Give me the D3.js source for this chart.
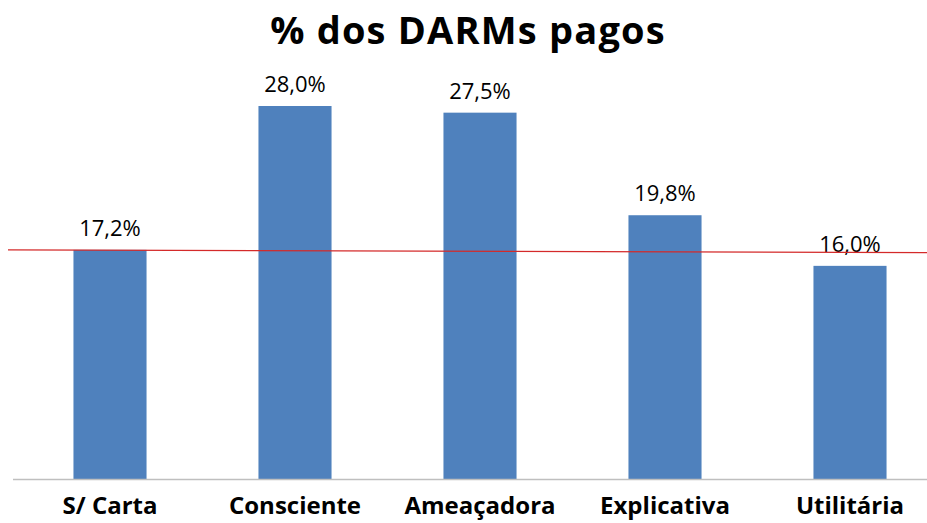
<!DOCTYPE html>
<html><head><meta charset="utf-8">
<script src="https://cdn.jsdelivr.net/npm/d3@7"></script>
<style>body{margin:0;background:#fff}svg{display:block}</style>
</head><body>
<script>
const categories = ["S/ Carta","Consciente","Ameaçadora","Explicativa","Utilitária"];
const values = [17.2, 28.0, 27.5, 19.8, 16.0];
const valueLabels = ["17,2%","28,0%","27,5%","19,8%","16,0%"];
const refLine = [17.2, 17.0];
const title = "% dos DARMs pagos";

const W = 927, H = 523;
const svg = d3.select("body").append("svg").attr("width", W).attr("height", H);

const x = d3.scaleBand().domain(categories).range([17.5, 942.5]).paddingInner(0.605).paddingOuter(0.3025);
const y = d3.scaleLinear().domain([0, 28]).range([479, 106]);

svg.append("text").attr("x", 468).attr("y", 44).attr("text-anchor", "middle")
  .attr("font-family", "Open Sans").attr("font-weight", "bold").attr("font-size", 38)
  .attr("letter-spacing", 1.2).attr("fill", "#000").text(title);

svg.selectAll("rect.bar").data(values).join("rect").attr("class","bar")
  .attr("x", (d,i) => x(categories[i])).attr("width", x.bandwidth())
  .attr("y", d => y(d)).attr("height", d => y(0) - y(d)).attr("fill", "#4f81bd");

svg.append("line").attr("x1", 13).attr("x2", W).attr("y1", y(0)+0.5).attr("y2", y(0)+0.5)
  .attr("stroke", "#bfbfbf").attr("stroke-width", 1.5);

svg.selectAll("text.val").data(values).join("text").attr("class","val")
  .attr("x", (d,i) => x(categories[i]) + x.bandwidth()/2).attr("y", d => y(d) - 14)
  .attr("text-anchor", "middle").attr("font-family", "Open Sans").attr("font-size", 22)
  .attr("fill", "#000").text((d,i) => valueLabels[i]);

svg.selectAll("text.cat").data(categories).join("text").attr("class","cat")
  .attr("x", d => x(d) + x.bandwidth()/2).attr("y", 514)
  .attr("text-anchor", "middle").attr("font-family", "Open Sans").attr("font-weight", "bold")
  .attr("font-size", 24).attr("fill", "#000").text(d => d);

svg.append("line").attr("x1", 8).attr("x2", W).attr("y1", y(refLine[0])).attr("y2", y(refLine[1]))
  .attr("stroke", "#d42a2a").attr("stroke-width", 1.3);
</script>
</body></html>
